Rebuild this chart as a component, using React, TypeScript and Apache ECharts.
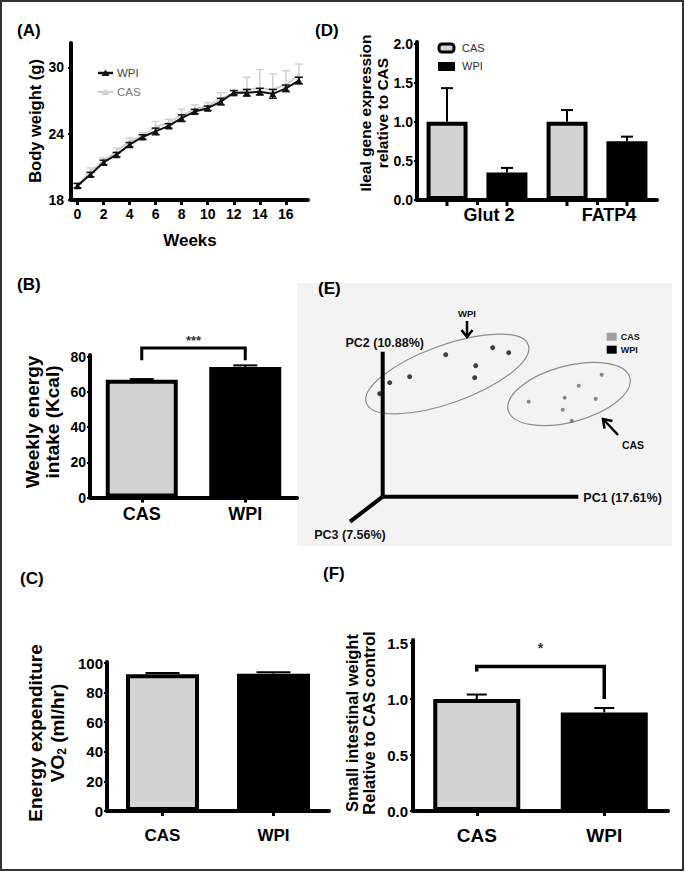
import React, { useEffect, useRef } from 'react';
import * as echarts from 'echarts';

const FONT = '"Liberation Sans", Arial, Helvetica, sans-serif';
const INK = '#000000';
const CAS_FILL = '#d3d3d3';
const CAS_LINE = '#d0d0d0';
const WPI_FILL = '#000000';

// ---------- (A) body weight ----------
const weeks = [0, 1, 2, 3, 4, 5, 6, 7, 8, 9, 10, 11, 12, 13, 14, 15, 16, 17];
const wpiWeight = [19.3, 20.3, 21.4, 22.1, 23.0, 23.7, 24.2, 24.7, 25.4, 26.0, 26.3, 26.9, 27.7, 27.7, 27.8, 27.6, 28.1, 28.8];
const wpiWeightErr = [0.2, 0.2, 0.2, 0.2, 0.2, 0.2, 0.3, 0.2, 0.3, 0.2, 0.2, 0.3, 0.2, 0.3, 0.3, 0.4, 0.3, 0.3];
const casWeight = [19.3, 20.6, 21.5, 22.4, 23.3, 23.8, 24.6, 25.0, 25.7, 26.2, 26.5, 27.2, 27.6, 28.0, 28.1, 28.0, 28.4, 29.3];
const casWeightErr = [0.2, 0.3, 0.3, 0.3, 0.3, 0.3, 0.5, 0.3, 0.5, 0.4, 0.3, 0.5, 0.3, 1.1, 1.7, 1.4, 1.3, 1.0];
const weightTicks = [18, 24, 30];
const weekTicks = [0, 2, 4, 6, 8, 10, 12, 14, 16];

// ---------- (B) weekly energy intake ----------
const groups = ['CAS', 'WPI'];
const intakeMean = [67.0, 74.2];
const intakeErr = [0.3, 0.9];
const intakeTicks = [0, 20, 40, 60, 80];
const intakeSig = { top: 85, leftEnd: 78, rightEnd: 78, markAt: 89.5, mark: '***' };

// ---------- (C) energy expenditure ----------
const vo2Mean = [92.4, 92.8];
const vo2Err = [0.8, 1.0];
const vo2Ticks = [0, 20, 40, 60, 80, 100];

// ---------- (D) ileal gene expression ----------
const genes = ['Glut 2', 'FATP4'];
const geneCas = [1.0, 1.0];
const geneCasErr = [0.43, 0.15];
const geneWpi = [0.35, 0.75];
const geneWpiErr = [0.06, 0.06];
const geneTicks = [0, 0.5, 1.0, 1.5, 2.0];

// ---------- (E) PCA ----------
const pcaWpi = [[-0.03, 1.03], [0.07, 1.14], [0.27, 1.2], [0.63, 1.42], [0.93, 1.31], [0.92, 1.19], [1.1, 1.49], [1.26, 1.44]];
const pcaCas = [[1.46, 0.95], [1.82, 0.99], [1.96, 1.11], [2.19, 1.22], [2.13, 0.98], [1.8, 0.87], [1.89, 0.76]];
const pcaAxisEnds = [[1.956, 0], [0, 1.45], [-0.327, -0.25]];
const pcaAxisNames = ['PC1 (17.61%)', 'PC2 (10.88%)', 'PC3 (7.56%)'];
const pcaClusters = [
  { name: 'WPI', center: [0.646, 1.227], radii: [0.86, 0.29], angle: 19.8 },
  { name: 'CAS', center: [1.863, 1.027], radii: [0.63, 0.28], angle: 15 },
];
const pcaArrowTips = { WPI: [0.843, 1.597], CAS: [2.203, 0.777] };

// ---------- (F) small intestinal weight ----------
const siMean = [1.0, 0.88];
const siErr = [0.04, 0.04];
const siTicks = [0, 0.5, 1.0, 1.5];
const siSig = { top: 1.29, leftEnd: 1.245, rightEnd: 1.0, markAt: 1.46, mark: '*' };

const bold = (size: number, color = INK) => ({ fontFamily: FONT, fontWeight: 'bold' as const, fontSize: size, color });

function errSeries(xi: number, yi: number, xs: number[], means: number[], errs: number[], o: any) {
  return {
    type: 'custom',
    xAxisIndex: xi,
    yAxisIndex: yi,
    silent: true,
    clip: false,
    z: o.z ?? 5,
    data: means.map((m, i) => [xs[i], m, errs[i]]),
    renderItem: (_p: any, api: any) => {
      const x = api.value(0);
      const m = api.value(1);
      const e = api.value(2);
      const p0 = api.coord([x, m]);
      const p1 = api.coord([x, m + e]);
      const cx = p0[0] + (o.offset || 0);
      const st = { stroke: o.color, lineWidth: o.lw };
      const ch: any[] = [
        { type: 'line', shape: { x1: cx, y1: p0[1], x2: cx, y2: p1[1] }, style: st },
        { type: 'line', shape: { x1: cx - o.cap, y1: p1[1], x2: cx + o.cap, y2: p1[1] }, style: st },
      ];
      if (o.both) {
        const p2 = api.coord([x, m - e]);
        ch.push({ type: 'line', shape: { x1: cx, y1: p0[1], x2: cx, y2: p2[1] }, style: st });
        ch.push({ type: 'line', shape: { x1: cx - o.cap, y1: p2[1], x2: cx + o.cap, y2: p2[1] }, style: st });
      }
      if (o.stub) {
        const b = api.coord([x, 0]);
        ch.push({ type: 'line', shape: { x1: cx, y1: b[1] + 2, x2: cx, y2: b[1] + 6 }, style: { stroke: INK, lineWidth: 3 } });
      }
      return { type: 'group', children: ch };
    },
  };
}

function bracketSeries(xi: number, yi: number, sig: any, lw: number, fs: number) {
  return {
    type: 'custom',
    xAxisIndex: xi,
    yAxisIndex: yi,
    silent: true,
    clip: false,
    z: 6,
    data: [[0, sig.top]],
    renderItem: (_p: any, api: any) => {
      const a = api.coord([0, sig.top]);
      const b = api.coord([1, sig.top]);
      const la = api.coord([0, sig.leftEnd]);
      const rb = api.coord([1, sig.rightEnd]);
      const s = api.coord([0, sig.markAt]);
      return {
        type: 'group',
        children: [
          {
            type: 'polyline',
            shape: { points: [[a[0], la[1]], [a[0], a[1]], [b[0], b[1]], [b[0], rb[1]]] },
            style: { stroke: INK, lineWidth: lw, fill: null },
          },
          {
            type: 'text',
            x: (a[0] + b[0]) / 2,
            y: s[1],
            style: { text: sig.mark, fill: '#333', fontSize: fs, fontFamily: FONT, fontWeight: 'bold', align: 'center', verticalAlign: 'middle', textAlign: 'center', textVerticalAlign: 'middle' },
          },
        ],
      };
    },
  };
}

function valueYAxis(gi: number, max: number, ticks: number[], fs: number, margin: number, dec = 0) {
  return {
    type: 'value',
    gridIndex: gi,
    min: 0,
    max,
    axisLine: { show: true, onZero: false, lineStyle: { color: INK, width: 4 } },
    axisTick: { show: true, customValues: ticks, length: 3, lineStyle: { color: INK, width: 2 } },
    axisLabel: { customValues: ticks, ...bold(fs), margin, formatter: (v: number) => v.toFixed(dec) },
    splitLine: { show: false },
  };
}

function catXAxis(gi: number, cats: string[], fs: number, margin: number, extra: any = {}) {
  return {
    type: 'category',
    gridIndex: gi,
    data: cats,
    axisLine: { show: true, onZero: false, lineStyle: { color: INK, width: 4 } },
    axisTick: { show: true, alignWithLabel: true, length: 5, lineStyle: { color: INK, width: 3 } },
    axisLabel: { ...bold(fs), margin, ...extra },
    splitLine: { show: false },
  };
}

function barItems(vals: number[]) {
  return vals.map((v, i) => ({ value: v, itemStyle: { color: i === 0 ? CAS_FILL : WPI_FILL } }));
}

function pcaRender(_p: any, api: any) {
  const o = api.coord([0, 0]);
  const unit = api.size([1, 1]);
  const ch: any[] = [];
  const txt = (x: number, y: number, text: string, fs: number, align: string, va: string, color = '#111') => ({
    type: 'text',
    x,
    y,
    style: { text, fill: color, fontSize: fs, fontFamily: FONT, fontWeight: 'bold', align, verticalAlign: va, textAlign: align, textVerticalAlign: va },
  });
  pcaClusters.forEach((c) => {
    const p = api.coord(c.center);
    ch.push({
      type: 'ellipse',
      x: p[0],
      y: p[1],
      rotation: (c.angle * Math.PI) / 180,
      shape: { cx: 0, cy: 0, rx: c.radii[0] * unit[0], ry: c.radii[1] * unit[1] },
      style: { fill: null, stroke: '#8c8c8c', lineWidth: 1.2 },
    });
  });
  pcaAxisEnds.forEach((e) => {
    const p = api.coord(e);
    ch.push({ type: 'line', shape: { x1: o[0], y1: o[1], x2: p[0], y2: p[1] }, style: { stroke: INK, lineWidth: 4 } });
  });
  const p1 = api.coord(pcaAxisEnds[0]);
  const p2 = api.coord(pcaAxisEnds[1]);
  const p3 = api.coord(pcaAxisEnds[2]);
  ch.push(txt(p1[0] + 5, p1[1] + 1, pcaAxisNames[0], 12.5, 'left', 'middle'));
  ch.push(txt(p2[0] + 2, p2[1] - 9, pcaAxisNames[1], 12.5, 'center', 'middle'));
  ch.push(txt(p3[0], p3[1] + 13, pcaAxisNames[2], 12.5, 'center', 'middle'));
  const w = api.coord(pcaArrowTips.WPI);
  ch.push({ type: 'line', shape: { x1: w[0], y1: w[1] - 16, x2: w[0], y2: w[1] - 1 }, style: { stroke: INK, lineWidth: 2.5 } });
  ch.push({ type: 'polyline', shape: { points: [[w[0] - 5.5, w[1] - 7], [w[0], w[1]], [w[0] + 5.5, w[1] - 7]] }, style: { stroke: INK, lineWidth: 2.5, fill: null } });
  ch.push(txt(w[0], w[1] - 24, 'WPI', 9.5, 'center', 'middle'));
  const c = api.coord(pcaArrowTips.CAS);
  const dx = 15, dy = 16;
  const len = Math.sqrt(dx * dx + dy * dy);
  const ux = dx / len, uy = dy / len;
  ch.push({ type: 'line', shape: { x1: c[0] + 1, y1: c[1] + 1, x2: c[0] + dx, y2: c[1] + dy }, style: { stroke: INK, lineWidth: 2.5 } });
  const hx = ux * 8, hy = uy * 8;
  ch.push({
    type: 'polyline',
    shape: { points: [[c[0] + hx - uy * 5.5, c[1] + hy + ux * 5.5], [c[0], c[1]], [c[0] + hx + uy * 5.5, c[1] + hy - ux * 5.5]] },
    style: { stroke: INK, lineWidth: 2.5, fill: null },
  });
  ch.push(txt(c[0] + 30, c[1] + 26, 'CAS', 10.5, 'center', 'middle'));
  const lg = api.coord([2.24, 1.64]);
  ch.push({ type: 'rect', shape: { x: lg[0], y: lg[1], width: 10, height: 8 }, style: { fill: '#a0a0a0' } });
  ch.push({ type: 'rect', shape: { x: lg[0], y: lg[1] + 13, width: 10, height: 8 }, style: { fill: '#000' } });
  ch.push(txt(lg[0] + 14, lg[1] + 4, 'CAS', 9, 'left', 'middle'));
  ch.push(txt(lg[0] + 14, lg[1] + 17, 'WPI', 9, 'left', 'middle'));
  return { type: 'group', children: ch };
}

function gtext(x: number, y: number, text: string, fs: number, extra: any = {}) {
  return {
    type: 'text',
    x,
    y,
    rotation: extra.rotation || 0,
    z: 10,
    style: {
      text,
      fill: INK,
      fontSize: fs,
      fontFamily: FONT,
      fontWeight: 'bold',
      textAlign: extra.align || 'left',
      textVerticalAlign: 'middle',
      align: extra.align || 'left',
      verticalAlign: 'middle',
      lineHeight: extra.lineHeight,
      rich: extra.rich,
    },
  };
}

function buildOption(): any {
  return {
    animation: false,
    backgroundColor: '#ffffff',
    grid: [
      { left: 71, top: 43, width: 237, height: 157 },
      { left: 417, top: 42, width: 240, height: 158 },
      { left: 90, top: 355, width: 207, height: 142.5 },
      { left: 297, top: 283, width: 375, height: 263, show: true, backgroundColor: '#f3f3f3', borderWidth: 0 },
      { left: 107, top: 662, width: 222, height: 149 },
      { left: 413, top: 640, width: 255, height: 171 },
    ],
    xAxis: [
      {
        type: 'value',
        gridIndex: 0,
        min: -0.5,
        max: 17.7,
        axisLine: { show: true, onZero: false, lineStyle: { color: INK, width: 4 } },
        axisTick: { show: true, customValues: weekTicks, length: 5, lineStyle: { color: INK, width: 3 } },
        axisLabel: { customValues: weekTicks, ...bold(14), margin: 7 },
        splitLine: { show: false },
      },
      catXAxis(1, genes, 18, 6, { padding: [0, 0, 0, 24] }),
      catXAxis(2, groups, 18, 7),
      { type: 'value', gridIndex: 3, min: -0.857, max: 2.893, show: false, splitLine: { show: false } },
      catXAxis(4, groups, 17, 16),
      catXAxis(5, groups, 19, 15),
    ],
    yAxis: [
      {
        type: 'value',
        gridIndex: 0,
        min: 18,
        max: 32.2,
        axisLine: { show: true, onZero: false, lineStyle: { color: INK, width: 4 } },
        axisTick: { show: true, customValues: weightTicks, length: 3, lineStyle: { color: INK, width: 2 } },
        axisLabel: { customValues: weightTicks, ...bold(14), margin: 7 },
        splitLine: { show: false },
      },
      valueYAxis(1, 2.02, geneTicks, 14, 4, 1),
      valueYAxis(2, 81, intakeTicks, 14, 4),
      { type: 'value', gridIndex: 3, min: -0.493, max: 2.137, show: false, splitLine: { show: false } },
      valueYAxis(4, 100.7, vo2Ticks, 15, 4),
      valueYAxis(5, 1.527, siTicks, 15, 5, 1),
    ],
    series: [
      errSeries(0, 0, weeks, casWeight, casWeightErr, { color: CAS_LINE, lw: 1.5, cap: 4, z: 2 }),
      {
        type: 'line',
        name: 'CAS',
        xAxisIndex: 0,
        yAxisIndex: 0,
        data: weeks.map((w, i) => [w, casWeight[i]]),
        symbol: 'triangle',
        symbolSize: 6,
        lineStyle: { color: CAS_LINE, width: 2 },
        itemStyle: { color: CAS_LINE },
        z: 3,
      },
      {
        type: 'line',
        name: 'WPI',
        xAxisIndex: 0,
        yAxisIndex: 0,
        data: weeks.map((w, i) => [w, wpiWeight[i]]),
        symbol: 'triangle',
        symbolSize: 7,
        lineStyle: { color: '#111', width: 2 },
        itemStyle: { color: '#111' },
        z: 4,
      },
      errSeries(0, 0, weeks, wpiWeight, wpiWeightErr, { color: '#111', lw: 1.5, cap: 4, both: true, z: 5 }),
      {
        type: 'bar',
        name: 'CAS',
        xAxisIndex: 1,
        yAxisIndex: 1,
        data: geneCas,
        barWidth: 41,
        barGap: '46%',
        itemStyle: { color: CAS_FILL, borderColor: INK, borderWidth: 4 },
      },
      {
        type: 'bar',
        name: 'WPI',
        xAxisIndex: 1,
        yAxisIndex: 1,
        data: geneWpi,
        barWidth: 41,
        barGap: '46%',
        itemStyle: { color: WPI_FILL, borderColor: INK, borderWidth: 4 },
      },
      errSeries(1, 1, [0, 1], geneCas, geneCasErr, { color: INK, lw: 2, cap: 6, offset: -30, stub: true }),
      errSeries(1, 1, [0, 1], geneWpi, geneWpiErr, { color: INK, lw: 2, cap: 6, offset: 30, stub: true }),
      {
        type: 'bar',
        xAxisIndex: 2,
        yAxisIndex: 2,
        data: barItems(intakeMean),
        barWidth: 72,
        itemStyle: { borderColor: INK, borderWidth: 4 },
      },
      errSeries(2, 2, [0, 1], intakeMean, intakeErr, { color: INK, lw: 2, cap: 12 }),
      bracketSeries(2, 2, intakeSig, 3, 13),
      {
        type: 'custom',
        xAxisIndex: 3,
        yAxisIndex: 3,
        silent: true,
        clip: false,
        data: [[0, 0]],
        renderItem: pcaRender,
        z: 2,
      },
      {
        type: 'scatter',
        name: 'WPI',
        xAxisIndex: 3,
        yAxisIndex: 3,
        data: pcaWpi,
        symbol: 'circle',
        symbolSize: 5,
        itemStyle: { color: '#111' },
        z: 3,
      },
      {
        type: 'scatter',
        name: 'CAS',
        xAxisIndex: 3,
        yAxisIndex: 3,
        data: pcaCas,
        symbol: 'circle',
        symbolSize: 4,
        itemStyle: { color: '#6e6e6e' },
        z: 3,
      },
      {
        type: 'bar',
        xAxisIndex: 4,
        yAxisIndex: 4,
        data: barItems(vo2Mean),
        barWidth: 73,
        itemStyle: { borderColor: INK, borderWidth: 4 },
      },
      errSeries(4, 4, [0, 1], vo2Mean, vo2Err, { color: INK, lw: 2, cap: 17 }),
      {
        type: 'bar',
        xAxisIndex: 5,
        yAxisIndex: 5,
        data: barItems(siMean),
        barWidth: 87,
        itemStyle: { borderColor: INK, borderWidth: 4 },
      },
      errSeries(5, 5, [0, 1], siMean, siErr, { color: INK, lw: 2, cap: 10 }),
      bracketSeries(5, 5, siSig, 3.5, 14),
    ],
    graphic: [
      { type: 'rect', shape: { x: 1, y: 1, width: 682, height: 869 }, style: { fill: null, stroke: '#333', lineWidth: 2 }, z: 20 },
      gtext(17, 30, '(A)', 17),
      gtext(315, 30, '(D)', 17),
      gtext(17, 284, '(B)', 17),
      gtext(318, 288, '(E)', 17),
      gtext(20, 578, '(C)', 17),
      gtext(323, 573, '(F)', 17),
      gtext(35, 121, 'Body weight (g)', 16.5, { rotation: Math.PI / 2, align: 'center' }),
      gtext(190, 240, 'Weeks', 17, { align: 'center' }),
      gtext(374, 113, 'Ileal gene expression\nrelative to CAS', 15.5, { rotation: Math.PI / 2, align: 'center', lineHeight: 17 }),
      gtext(42, 422, 'Weekly energy\nintake (Kcal)', 19, { rotation: Math.PI / 2, align: 'center', lineHeight: 20 }),
      gtext(46, 733, '{a|Energy expenditure}\n{a|VO}{s|2}{a| (ml/hr)}', 19, {
        rotation: Math.PI / 2,
        align: 'center',
        rich: {
          a: { fontSize: 19, fontWeight: 'bold', fontFamily: FONT, fill: INK, lineHeight: 22 },
          s: { fontSize: 12, fontWeight: 'bold', fontFamily: FONT, fill: INK, lineHeight: 22, padding: [9, 0, 0, 0] },
        },
      }),
      gtext(360, 723, 'Small intestinal weight\nRelative to CAS control', 16.5, { rotation: Math.PI / 2, align: 'center', lineHeight: 17 }),
      { type: 'line', shape: { x1: 98, y1: 73, x2: 113, y2: 73 }, style: { stroke: '#111', lineWidth: 2.5 }, z: 10 },
      { type: 'polygon', shape: { points: [[105.5, 69.5], [101.5, 76], [109.5, 76]] }, style: { fill: '#111' }, z: 10 },
      { type: 'text', x: 117, y: 73, z: 10, style: { text: 'WPI', fill: '#444', fontSize: 11.5, fontFamily: FONT, textVerticalAlign: 'middle', verticalAlign: 'middle' } },
      { type: 'line', shape: { x1: 98, y1: 92, x2: 113, y2: 92 }, style: { stroke: CAS_LINE, lineWidth: 2.5 }, z: 10 },
      { type: 'polygon', shape: { points: [[105.5, 88.5], [101.5, 95], [109.5, 95]] }, style: { fill: CAS_LINE }, z: 10 },
      { type: 'text', x: 117, y: 92, z: 10, style: { text: 'CAS', fill: '#777', fontSize: 11.5, fontFamily: FONT, textVerticalAlign: 'middle', verticalAlign: 'middle' } },
      { type: 'rect', shape: { x: 439, y: 44, width: 15, height: 8, r: 3 }, style: { fill: CAS_FILL, stroke: INK, lineWidth: 3 }, z: 10 },
      { type: 'rect', shape: { x: 438, y: 62, width: 17, height: 9 }, style: { fill: INK }, z: 10 },
      { type: 'text', x: 462, y: 48, z: 10, style: { text: 'CAS', fill: '#333', fontSize: 11, fontFamily: FONT, textVerticalAlign: 'middle', verticalAlign: 'middle' } },
      { type: 'text', x: 462, y: 66, z: 10, style: { text: 'WPI', fill: '#333', fontSize: 11, fontFamily: FONT, textVerticalAlign: 'middle', verticalAlign: 'middle' } },
    ],
  };
}

export default function App() {
  const ref = useRef<HTMLDivElement>(null);
  useEffect(() => {
    if (!ref.current) return;
    const chart = echarts.init(ref.current, undefined, { renderer: 'svg' });
    chart.setOption(buildOption());
    return () => chart.dispose();
  }, []);
  return <div ref={ref} style={{ position: 'absolute', left: 0, top: 0, width: 685, height: 872, background: '#fff' }} />;
}
